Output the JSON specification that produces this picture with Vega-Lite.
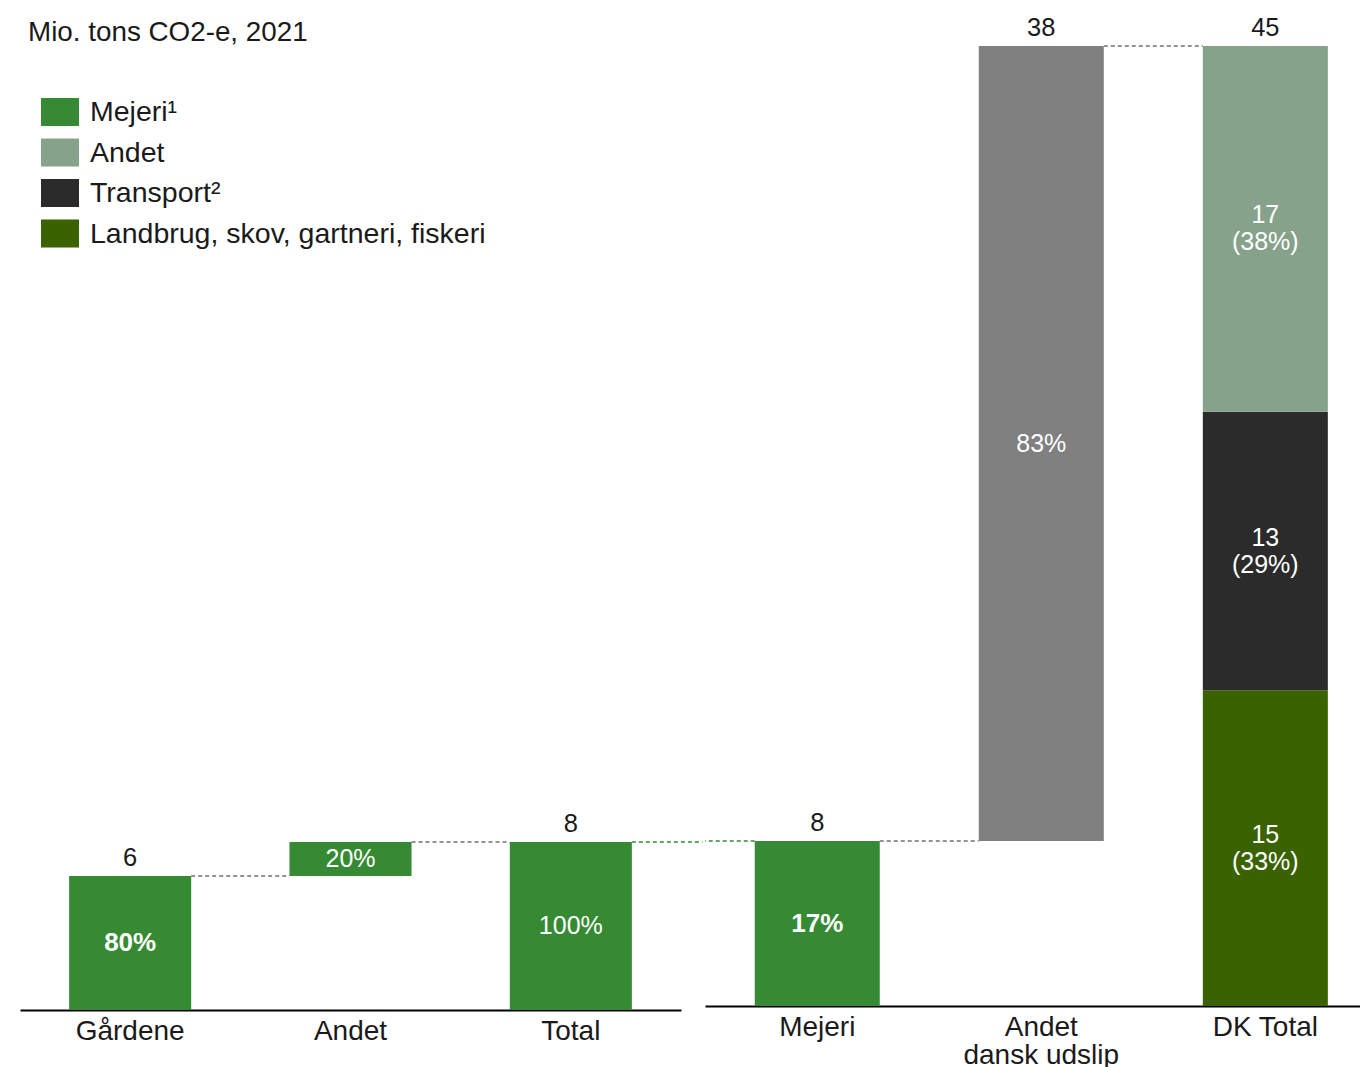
{
  "$schema": "https://vega.github.io/schema/vega-lite/v6.json",
  "background": "white",
  "padding": {"left": 20, "top": 16, "right": 0, "bottom": 0},
  "spacing": 0,
  "config": {
    "view": {"stroke": null},
    "font": "Liberation Sans",
    "legend": {
      "orient": "none",
      "legendX": 21,
      "legendY": 47,
      "symbolType": "M-1,-0.74H1V0.74H-1Z",
      "symbolSize": 1444,
      "symbolStrokeWidth": 0,
      "symbolOpacity": 1,
      "labelFontSize": 28.5,
      "labelFont": "Liberation Sans",
      "labelColor": "#1a1a1a",
      "labelOffset": 11,
      "rowPadding": 6.5,
      "labelLimit": 600
    },
    "axisX": {
      "title": null,
      "labelAngle": 0,
      "ticks": false,
      "grid": false,
      "domainColor": "#000000",
      "domainWidth": 2,
      "labelFontSize": 28,
      "labelFont": "Liberation Sans",
      "labelColor": "#1a1a1a",
      "labelPadding": 7,
      "labelLineHeight": 28,
      "labelOverlap": false,
      "labelFlush": false,
      "labelBound": false
    }
  },
  "resolve": {"scale": {"color": "shared"}},
  "hconcat": [
    {
      "width": 661,
      "height": 964,
      "title": {"text": "Mio. tons CO2-e, 2021", "anchor": "start", "frame": "group", "fontSize": 27.8, "fontWeight": "normal", "font": "Liberation Sans", "color": "#1a1a1a", "dx": 8, "dy": 7, "offset": 6},
      "data": {"values": [
        {"cat": "Gårdene", "next": "Andet", "y0": 0, "y1": 6.17, "seg": "Mejeri¹", "top": "6", "inner": "80%"},
        {"cat": "Andet", "next": "Total", "y0": 6.17, "y1": 7.73, "seg": "Mejeri¹", "top": "", "inner": "20%"},
        {"cat": "Total", "next": "", "y0": 0, "y1": 7.73, "seg": "Mejeri¹", "top": "8", "inner": "100%"}
      ]},
      "transform": [{"calculate": "(datum.y0 + datum.y1) / 2", "as": "mid"}],
      "encoding": {
        "x": {"field": "cat", "type": "nominal", "sort": ["Gårdene", "Andet", "Total"],
          "scale": {"paddingInner": 0.446, "paddingOuter": 0.223, "align": 0.5}}
      },
      "layer": [
        {
          "transform": [{"filter": "datum.next != ''"}],
          "mark": {"type": "rule", "strokeDash": [4, 3], "strokeWidth": 1.5, "color": "#707070"},
          "encoding": {
            "x": {"field": "cat", "type": "nominal", "bandPosition": 1},
            "x2": {"field": "next", "bandPosition": 0},
            "y": {"field": "y1", "type": "quantitative", "scale": {"domain": [0, 44.36], "nice": false}, "axis": null}
          }
        },
        {
          "transform": [{"filter": "datum.cat == 'Total'"}],
          "mark": {"type": "rule", "strokeDash": [4, 3], "strokeWidth": 1.5, "color": "#368A34", "x2Offset": 21.5},
          "encoding": {
            "x": {"field": "cat", "type": "nominal", "bandPosition": 1},
            "x2": {"value": "width"},
            "y": {"field": "y1", "type": "quantitative"}
          }
        },
        {
          "mark": {"type": "bar"},
          "encoding": {
            "y": {"field": "y0", "type": "quantitative"},
            "y2": {"field": "y1"},
            "color": {"field": "seg", "type": "nominal",
              "scale": {"domain": ["Mejeri¹", "Andet", "Transport²", "Landbrug, skov, gartneri, fiskeri", "Andet dansk udslip"],
                "range": ["#368A34", "#87A28A", "#2B2B2B", "#3A6300", "#808080"]},
              "legend": {"title": null, "values": ["Mejeri¹", "Andet", "Transport²", "Landbrug, skov, gartneri, fiskeri"]}}
          }
        },
        {
          "transform": [{"filter": "datum.top != ''"}],
          "mark": {"type": "text", "baseline": "alphabetic", "dy": -10, "fontSize": 25.5, "color": "#1a1a1a"},
          "encoding": {
            "y": {"field": "y1", "type": "quantitative"},
            "text": {"field": "top"}
          }
        },
        {
          "transform": [{"filter": "datum.cat != 'Gårdene'"}],
          "mark": {"type": "text", "baseline": "middle", "fontSize": 25, "color": "white"},
          "encoding": {
            "y": {"field": "mid", "type": "quantitative"},
            "text": {"field": "inner"}
          }
        },
        {
          "transform": [{"filter": "datum.cat == 'Gårdene'"}],
          "mark": {"type": "text", "baseline": "middle", "fontSize": 26, "fontWeight": "bold", "color": "white"},
          "encoding": {
            "y": {"field": "mid", "type": "quantitative"},
            "text": {"field": "inner"}
          }
        }
      ]
    },
    {
      "width": 656,
      "height": 960,
      "data": {"values": [
        {"cat": "Mejeri", "next": "Andet dansk udslip", "y0": 0, "y1": 7.73, "seg": "Mejeri¹", "top": "8", "inner": "17%"},
        {"cat": "Andet dansk udslip", "next": "DK Total", "y0": 7.73, "y1": 45, "seg": "Andet dansk udslip", "top": "38", "inner": "83%"},
        {"cat": "DK Total", "next": "", "y0": 0, "y1": 14.8, "seg": "Landbrug, skov, gartneri, fiskeri", "top": "", "inner": "15|(33%)"},
        {"cat": "DK Total", "next": "", "y0": 14.8, "y1": 27.85, "seg": "Transport²", "top": "", "inner": "13|(29%)"},
        {"cat": "DK Total", "next": "", "y0": 27.85, "y1": 45, "seg": "Andet", "top": "45", "inner": "17|(38%)"}
      ]},
      "transform": [{"calculate": "(datum.y0 + datum.y1) / 2", "as": "mid"}],
      "encoding": {
        "x": {"field": "cat", "type": "nominal", "sort": ["Mejeri", "Andet dansk udslip", "DK Total"],
          "scale": {"paddingInner": 0.442, "paddingOuter": 0.185, "align": 0.6},
          "axis": {"labelExpr": "datum.value == 'Andet dansk udslip' ? ['Andet', 'dansk udslip'] : datum.label"}}
      },
      "layer": [
        {
          "transform": [{"filter": "datum.next != ''"}],
          "mark": {"type": "rule", "strokeDash": [4, 3], "strokeWidth": 1.5, "color": "#707070"},
          "encoding": {
            "x": {"field": "cat", "type": "nominal", "bandPosition": 1},
            "x2": {"field": "next", "bandPosition": 0},
            "y": {"field": "y1", "type": "quantitative", "scale": {"domain": [0, 45], "nice": false}, "axis": null}
          }
        },
        {
          "transform": [{"filter": "datum.cat == 'Mejeri'"}],
          "mark": {"type": "rule", "strokeDash": [4, 3], "strokeWidth": 1.5, "color": "#368A34"},
          "encoding": {
            "x": {"field": "cat", "type": "nominal", "bandPosition": 0},
            "x2": {"value": 0},
            "y": {"field": "y1", "type": "quantitative"}
          }
        },
        {
          "mark": {"type": "bar"},
          "encoding": {
            "y": {"field": "y0", "type": "quantitative"},
            "y2": {"field": "y1"},
            "color": {"field": "seg", "type": "nominal",
              "scale": {"domain": ["Mejeri¹", "Andet", "Transport²", "Landbrug, skov, gartneri, fiskeri", "Andet dansk udslip"],
                "range": ["#368A34", "#87A28A", "#2B2B2B", "#3A6300", "#808080"]},
              "legend": {"title": null, "values": ["Mejeri¹", "Andet", "Transport²", "Landbrug, skov, gartneri, fiskeri"]}}
          }
        },
        {
          "transform": [{"filter": "datum.top != ''"}],
          "mark": {"type": "text", "baseline": "alphabetic", "dy": -10, "fontSize": 25.5, "color": "#1a1a1a"},
          "encoding": {
            "y": {"field": "y1", "type": "quantitative"},
            "text": {"field": "top"}
          }
        },
        {
          "transform": [{"filter": "datum.cat == 'Andet dansk udslip'"}],
          "mark": {"type": "text", "baseline": "middle", "fontSize": 25, "color": "white"},
          "encoding": {
            "y": {"field": "mid", "type": "quantitative"},
            "text": {"field": "inner"}
          }
        },
        {
          "transform": [{"filter": "datum.cat == 'DK Total'"}],
          "mark": {"type": "text", "baseline": "middle", "fontSize": 25, "color": "white", "lineBreak": "|", "lineHeight": 27, "dy": -13.5},
          "encoding": {
            "y": {"field": "mid", "type": "quantitative"},
            "text": {"field": "inner"}
          }
        },
        {
          "transform": [{"filter": "datum.cat == 'Mejeri'"}],
          "mark": {"type": "text", "baseline": "middle", "fontSize": 26, "fontWeight": "bold", "color": "white"},
          "encoding": {
            "y": {"field": "mid", "type": "quantitative"},
            "text": {"field": "inner"}
          }
        }
      ]
    }
  ]
}
